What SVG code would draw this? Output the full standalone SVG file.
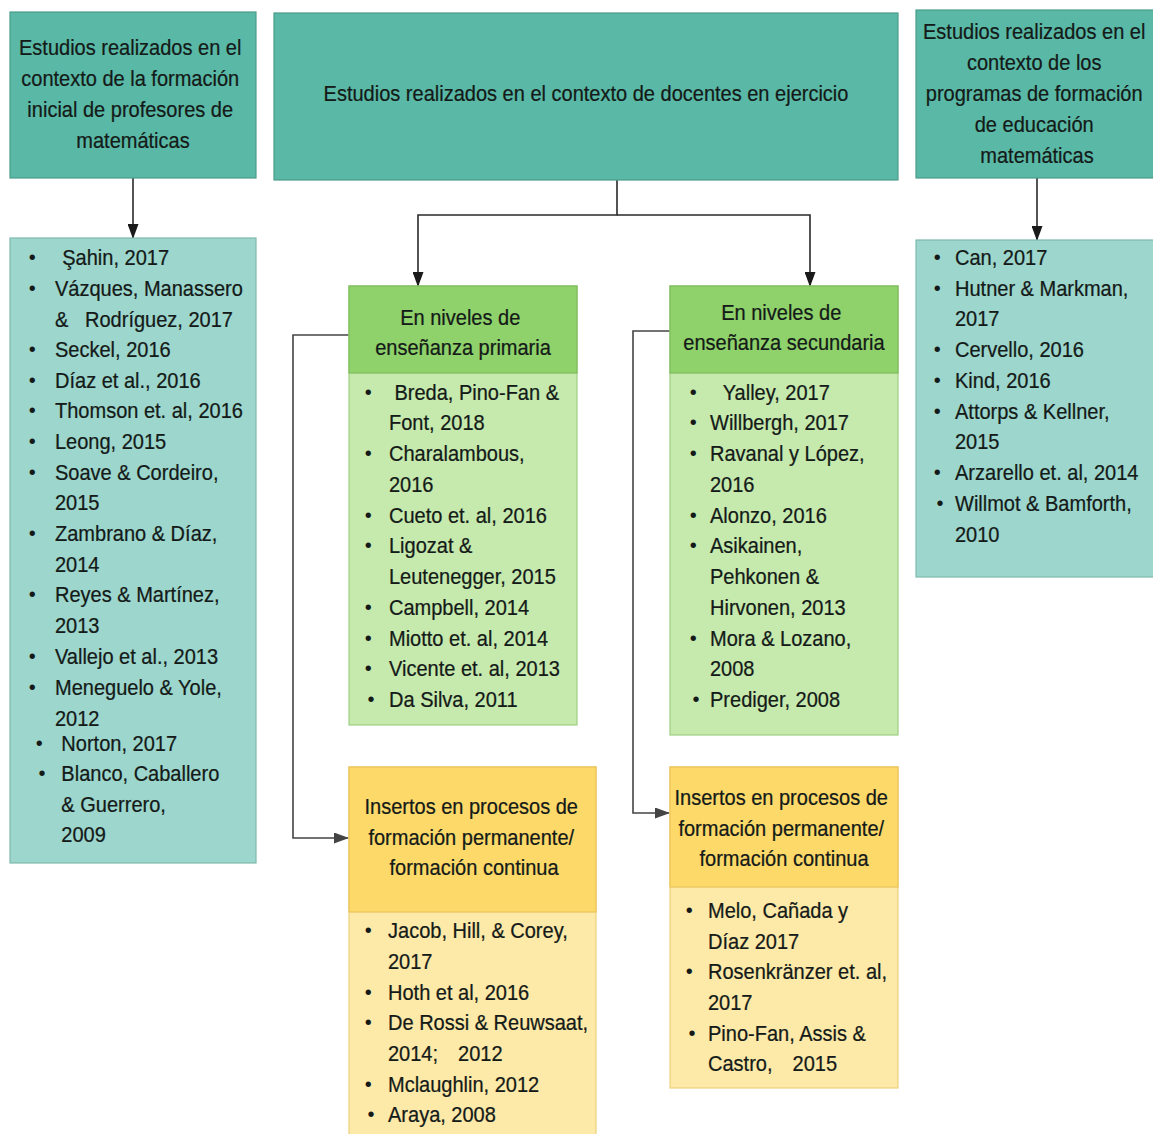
<svg xmlns="http://www.w3.org/2000/svg" width="1153" height="1134" viewBox="0 0 1153 1134">
  <style>
    .t { font-family: "Liberation Sans", Arial, sans-serif; font-size: 22px; fill: #141a18; stroke: #141a18; stroke-width: 0.25; }
    .b { font-family: "Liberation Sans", Arial, sans-serif; font-size: 20px; fill: #141a18; text-anchor: middle; }
    .c { text-anchor: middle; }
    .head { fill: #5ab9a6; stroke: #4b9c8b; stroke-width: 1.2; }
    .lite { fill: #9dd6cc; stroke: #7fb9ae; stroke-width: 1.2; }
    .gh { fill: #8fd16b; stroke: #7fbd5d; stroke-width: 1.2; }
    .gl { fill: #c6e9ad; stroke: #9fcf83; stroke-width: 1.2; }
    .yh { fill: #fdd96a; stroke: #e9c45a; stroke-width: 1.2; }
    .yl { fill: #fde9a8; stroke: #edd27e; stroke-width: 1.2; }
    .wire { fill: none; stroke: #2a2a2a; stroke-width: 1.6; }
    .wire2 { fill: none; stroke: #444; stroke-width: 1.6; }
  </style>
  <defs>
    <marker id="arrow" markerUnits="userSpaceOnUse" markerWidth="15" markerHeight="11" refX="14" refY="5.5" orient="auto">
      <path d="M0,0 L15,5.5 L0,11 z" fill="#1a1a1a"/>
    </marker>
    <marker id="arrowGray" markerUnits="userSpaceOnUse" markerWidth="15" markerHeight="11" refX="14" refY="5.5" orient="auto">
      <path d="M0,0 L15,5.5 L0,11 z" fill="#444"/>
    </marker>
  </defs>

  <rect width="1153" height="1134" fill="#ffffff"/>

  <!-- connectors -->
  <g id="connectors">
    <path class="wire" d="M133,178 V238" marker-end="url(#arrow)"/>
    <path class="wire" d="M1037,178 V240" marker-end="url(#arrow)"/>
    <path class="wire" d="M617,180 V215 H418 V286" marker-end="url(#arrow)"/>
    <path class="wire" d="M617,215 H810 V286" marker-end="url(#arrow)"/>
    <path class="wire2" d="M349,335 H293 V838 H348" marker-end="url(#arrowGray)"/>
    <path class="wire2" d="M670,331 H633 V813 H669" marker-end="url(#arrowGray)"/>
  </g>

  <!-- initial teacher training -->
  <g id="formacion-inicial">
    <rect class="head" x="10" y="12" width="246" height="166"/>
    <text class="t c" transform="translate(133,0) scale(0.91,1)">
      <tspan x="0" y="55">Estudios realizados en el</tspan>
      <tspan x="0" y="86">contexto de la formación</tspan>
      <tspan x="0" y="117">inicial de profesores de</tspan>
      <tspan x="0" y="148">matemáticas</tspan>
    </text>
  </g>

  <g id="lista-inicial">
    <rect class="lite" x="10" y="238" width="246" height="625"/>
    <text class="b">
      <tspan x="35" y="264">•</tspan>
      <tspan x="35" y="295">•</tspan>
      <tspan x="35" y="356">•</tspan>
      <tspan x="35" y="387">•</tspan>
      <tspan x="35" y="417">•</tspan>
      <tspan x="35" y="448">•</tspan>
      <tspan x="35" y="479">•</tspan>
      <tspan x="35" y="540">•</tspan>
      <tspan x="35" y="601">•</tspan>
      <tspan x="35" y="663">•</tspan>
      <tspan x="35" y="694">•</tspan>
      <tspan x="42" y="750">•</tspan>
      <tspan x="42" y="780">•</tspan>
    </text>
    <text class="t" transform="translate(55,0) scale(0.91,1)">
      <tspan x="8" y="265">Şahin, 2017</tspan>
      <tspan x="0" y="296">Vázques, Manassero</tspan>
      <tspan x="0" y="327">&amp;</tspan>
      <tspan x="33" y="327">Rodríguez, 2017</tspan>
      <tspan x="0" y="357">Seckel, 2016</tspan>
      <tspan x="0" y="388">Díaz et al., 2016</tspan>
      <tspan x="0" y="418">Thomson et. al, 2016</tspan>
      <tspan x="0" y="449">Leong, 2015</tspan>
      <tspan x="0" y="480">Soave &amp; Cordeiro,</tspan>
      <tspan x="0" y="510">2015</tspan>
      <tspan x="0" y="541">Zambrano &amp; Díaz,</tspan>
      <tspan x="0" y="572">2014</tspan>
      <tspan x="0" y="602">Reyes &amp; Martínez,</tspan>
      <tspan x="0" y="633">2013</tspan>
      <tspan x="0" y="664">Vallejo et al., 2013</tspan>
      <tspan x="0" y="695">Meneguelo &amp; Yole,</tspan>
      <tspan x="0" y="726">2012</tspan>
      <tspan x="7" y="751">Norton, 2017</tspan>
      <tspan x="7" y="781">Blanco, Caballero</tspan>
      <tspan x="7" y="812">&amp; Guerrero,</tspan>
      <tspan x="7" y="842">2009</tspan>
    </text>
  </g>

  <!-- in-service teachers -->
  <g id="docentes-ejercicio">
    <rect class="head" x="274" y="13" width="624" height="167"/>
    <text class="t c" transform="translate(586,0) scale(0.91,1)">
      <tspan x="0" y="101">Estudios realizados en el contexto de docentes en ejercicio</tspan>
    </text>
  </g>

  <!-- programmes -->
  <g id="programas">
    <rect class="head" x="916" y="10" width="242" height="168"/>
    <text class="t c" transform="translate(1037,0) scale(0.91,1)">
      <tspan x="0" y="39">Estudios realizados en el</tspan>
      <tspan x="0" y="70">contexto de los</tspan>
      <tspan x="0" y="101">programas de formación</tspan>
      <tspan x="0" y="132">de educación</tspan>
      <tspan x="0" y="163">matemáticas</tspan>
    </text>
  </g>

  <g id="lista-programas">
    <rect class="lite" x="916" y="240" width="242" height="337"/>
    <text class="b">
      <tspan x="940" y="264">•</tspan>
      <tspan x="940" y="295">•</tspan>
      <tspan x="940" y="356">•</tspan>
      <tspan x="940" y="387">•</tspan>
      <tspan x="940" y="418">•</tspan>
      <tspan x="940" y="479">•</tspan>
      <tspan x="940" y="510">•</tspan>
    </text>
    <text class="t" transform="translate(955,0) scale(0.91,1)">
      <tspan x="0" y="265">Can, 2017</tspan>
      <tspan x="0" y="296">Hutner &amp; Markman,</tspan>
      <tspan x="0" y="326">2017</tspan>
      <tspan x="0" y="357">Cervello, 2016</tspan>
      <tspan x="0" y="388">Kind, 2016</tspan>
      <tspan x="0" y="419">Attorps &amp; Kellner,</tspan>
      <tspan x="0" y="449">2015</tspan>
      <tspan x="0" y="480">Arzarello et. al, 2014</tspan>
      <tspan x="0" y="511">Willmot &amp; Bamforth,</tspan>
      <tspan x="0" y="542">2010</tspan>
    </text>
  </g>

  <!-- primary level -->
  <g id="primaria">
    <rect class="gl" x="349" y="286" width="228" height="439"/>
    <rect class="gh" x="349" y="286" width="228" height="87"/>
    <text class="t c" transform="translate(463,0) scale(0.91,1)">
      <tspan x="0" y="325">En niveles de</tspan>
      <tspan x="0" y="355">enseñanza primaria</tspan>
    </text>
    <text class="b">
      <tspan x="371" y="399">•</tspan>
      <tspan x="371" y="460">•</tspan>
      <tspan x="371" y="522">•</tspan>
      <tspan x="371" y="552">•</tspan>
      <tspan x="371" y="614">•</tspan>
      <tspan x="371" y="645">•</tspan>
      <tspan x="371" y="675">•</tspan>
      <tspan x="371" y="706">•</tspan>
    </text>
    <text class="t" transform="translate(389,0) scale(0.91,1)">
      <tspan x="6" y="400">Breda, Pino-Fan &amp;</tspan>
      <tspan x="0" y="430">Font, 2018</tspan>
      <tspan x="0" y="461">Charalambous,</tspan>
      <tspan x="0" y="492">2016</tspan>
      <tspan x="0" y="523">Cueto et. al, 2016</tspan>
      <tspan x="0" y="553">Ligozat &amp;</tspan>
      <tspan x="0" y="584">Leutenegger, 2015</tspan>
      <tspan x="0" y="615">Campbell, 2014</tspan>
      <tspan x="0" y="646">Miotto et. al, 2014</tspan>
      <tspan x="0" y="676">Vicente et. al, 2013</tspan>
      <tspan x="0" y="707">Da Silva, 2011</tspan>
    </text>
  </g>

  <!-- secondary level -->
  <g id="secundaria">
    <rect class="gl" x="670" y="286" width="228" height="449"/>
    <rect class="gh" x="670" y="286" width="228" height="87"/>
    <text class="t c" transform="translate(784,0) scale(0.91,1)">
      <tspan x="0" y="320">En niveles de</tspan>
      <tspan x="0" y="350">enseñanza secundaria</tspan>
    </text>
    <text class="b">
      <tspan x="696" y="399">•</tspan>
      <tspan x="696" y="429">•</tspan>
      <tspan x="696" y="460">•</tspan>
      <tspan x="696" y="522">•</tspan>
      <tspan x="696" y="552">•</tspan>
      <tspan x="696" y="645">•</tspan>
      <tspan x="696" y="706">•</tspan>
    </text>
    <text class="t" transform="translate(710,0) scale(0.91,1)">
      <tspan x="14" y="400">Yalley, 2017</tspan>
      <tspan x="0" y="430">Willbergh, 2017</tspan>
      <tspan x="0" y="461">Ravanal y López,</tspan>
      <tspan x="0" y="492">2016</tspan>
      <tspan x="0" y="523">Alonzo, 2016</tspan>
      <tspan x="0" y="553">Asikainen,</tspan>
      <tspan x="0" y="584">Pehkonen &amp;</tspan>
      <tspan x="0" y="615">Hirvonen, 2013</tspan>
      <tspan x="0" y="646">Mora &amp; Lozano,</tspan>
      <tspan x="0" y="676">2008</tspan>
      <tspan x="0" y="707">Prediger, 2008</tspan>
    </text>
  </g>

  <!-- continuing education, primary -->
  <g id="permanente-primaria">
    <rect class="yl" x="349" y="767" width="247" height="380"/>
    <rect class="yh" x="349" y="767" width="247" height="145"/>
    <text class="t c" transform="translate(474,0) scale(0.91,1)">
      <tspan x="0" y="814">Insertos en procesos de</tspan>
      <tspan x="0" y="845">formación permanente/</tspan>
      <tspan x="0" y="875">formación continua</tspan>
    </text>
    <text class="b">
      <tspan x="371" y="937">•</tspan>
      <tspan x="371" y="999">•</tspan>
      <tspan x="371" y="1029">•</tspan>
      <tspan x="371" y="1091">•</tspan>
      <tspan x="371" y="1121">•</tspan>
    </text>
    <text class="t" transform="translate(388,0) scale(0.91,1)">
      <tspan x="0" y="938">Jacob, Hill, &amp; Corey,</tspan>
      <tspan x="0" y="969">2017</tspan>
      <tspan x="0" y="1000">Hoth et al, 2016</tspan>
      <tspan x="0" y="1030">De Rossi &amp; Reuwsaat,</tspan>
      <tspan x="0" y="1061">2014;</tspan>
      <tspan x="77" y="1061">2012</tspan>
      <tspan x="0" y="1092">Mclaughlin, 2012</tspan>
      <tspan x="0" y="1122">Araya, 2008</tspan>
    </text>
  </g>

  <!-- continuing education, secondary -->
  <g id="permanente-secundaria">
    <rect class="yl" x="670" y="767" width="228" height="321"/>
    <rect class="yh" x="670" y="767" width="228" height="120"/>
    <text class="t c" transform="translate(784,0) scale(0.91,1)">
      <tspan x="0" y="805">Insertos en procesos de</tspan>
      <tspan x="0" y="836">formación permanente/</tspan>
      <tspan x="0" y="866">formación continua</tspan>
    </text>
    <text class="b">
      <tspan x="692" y="917">•</tspan>
      <tspan x="692" y="978">•</tspan>
      <tspan x="692" y="1040">•</tspan>
    </text>
    <text class="t" transform="translate(708,0) scale(0.91,1)">
      <tspan x="0" y="918">Melo, Cañada y</tspan>
      <tspan x="0" y="949">Díaz 2017</tspan>
      <tspan x="0" y="979">Rosenkränzer et. al,</tspan>
      <tspan x="0" y="1010">2017</tspan>
      <tspan x="0" y="1041">Pino-Fan, Assis &amp;</tspan>
      <tspan x="0" y="1071">Castro,</tspan>
      <tspan x="93" y="1071">2015</tspan>
    </text>
  </g>
</svg>
